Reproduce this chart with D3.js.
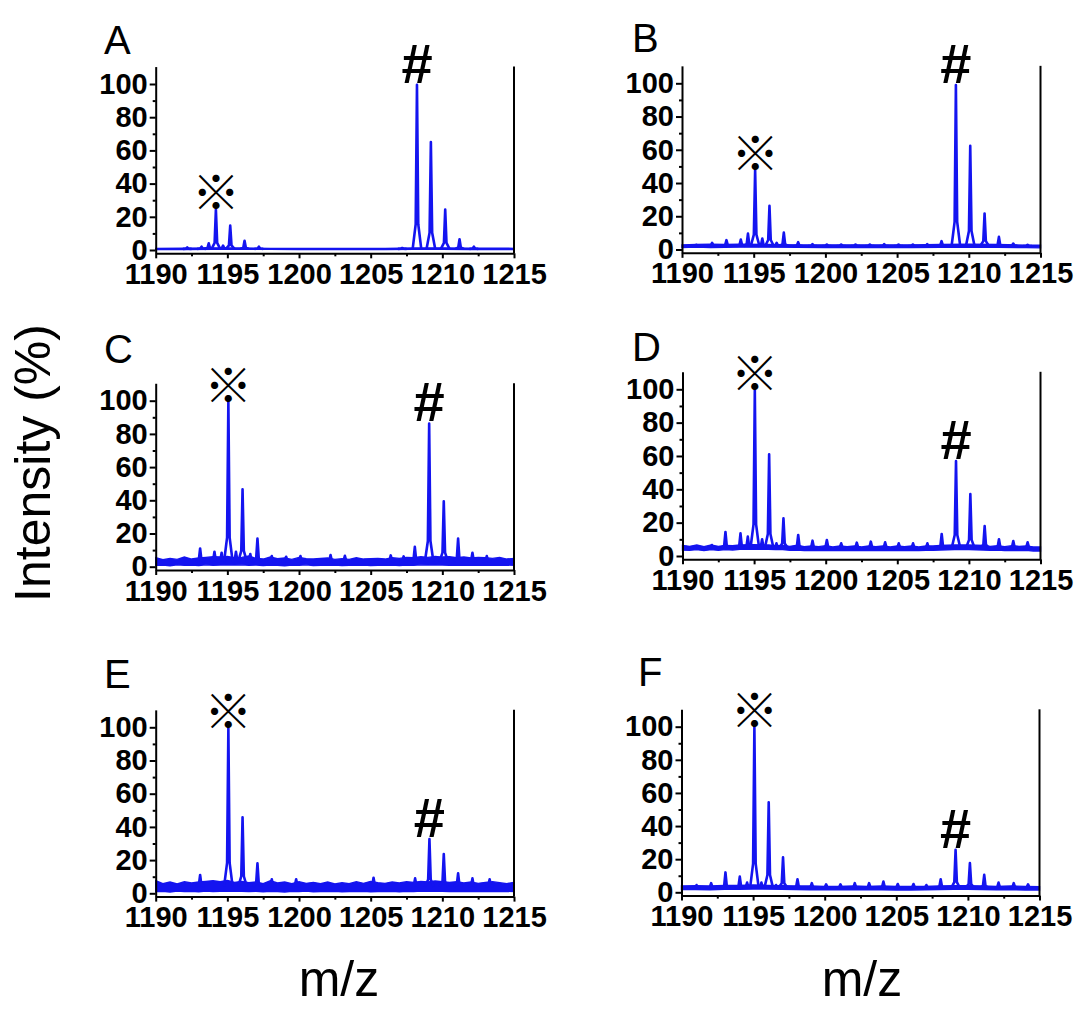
<!doctype html>
<meta charset="utf-8">

<style>
 body { margin: 0; background: #fff; }
 svg { display: block; }

 .axis path, .axis line {
     stroke: #000;
     stroke-width: 2px;
 }

 .axis .tick text {
     font-family: "Liberation Sans", Arial, sans-serif;
     font-size: 29px;
     font-weight: bold;
     fill: #000;
 }

 .letter, .title {
     font-family: "Liberation Sans", Arial, sans-serif;
 }
 .letter { font-size: 40px; }
 .title { font-size: 50px; }

 .band { fill: #1414f0; stroke: #1414f0; stroke-width: 1.4px; }
 .peak { fill: none; stroke: #1414f0; stroke-width: 2.6px; stroke-linejoin: round; }

 .star { font-family: "Noto Sans CJK JP", sans-serif; font-size: 48px; text-anchor: middle; }
 .hash { font-family: "Liberation Sans", Arial, sans-serif; font-size: 56px; font-weight: bold; text-anchor: middle; }
</style>

<svg width="1079" height="1009"></svg>

<script src="https://d3js.org/d3.v7.min.js"></script>
<script>
 // Data
 var panelNames = ['A', 'B', 'C', 'D', 'E', 'F'];
 var mzTicks = [1190, 1195, 1200, 1205, 1210, 1215];
 var mzMinor = [1192.5, 1197.5, 1202.5, 1207.5, 1212.5];
 var intTicks = [0, 20, 40, 60, 80, 100];
 var intMinor = [10, 30, 50, 70, 90];

 // peak lists [m/z, intensity %]
 var peaksA = [[1192.2, 1.6], [1193.2, 2.0], [1193.7, 4.0], [1194.2, 24.4], [1194.7, 2.6], [1195.2, 14.7],
   [1196.2, 5.6], [1197.2, 2.0], [1207.2, 1.2], [1208.23, 99.5], [1209.2, 65], [1210.2, 24.4],
   [1211.2, 6.5], [1212.2, 2.0]];
 var peaksB = [[1191.0, 2.8], [1192.1, 4.0], [1193.1, 5.6], [1194.1, 6.0], [1194.6, 9.6], [1195.1, 47.8],
   [1195.6, 6.6], [1196.1, 26.3], [1196.6, 4.0], [1197.1, 10.2], [1198.1, 4.4], [1199.1, 3.2],
   [1200.1, 3.0], [1201.1, 3.0], [1202.1, 3.0], [1203.1, 3.0], [1204.1, 3.2], [1205.1, 3.0],
   [1206.1, 3.0], [1207.1, 3.2], [1208.1, 5.0], [1209.1, 99], [1210.1, 62.4], [1211.1, 21.7],
   [1212.1, 7.6], [1213.1, 3.6], [1214.1, 2.8]];
 var peaksC = [[1193.1, 11], [1194.1, 9], [1194.6, 8.4], [1195.07, 99.5], [1195.6, 9], [1196.06, 46.6],
   [1196.6, 7.6], [1197.1, 16.9], [1198.1, 6.4], [1199.1, 6], [1200.1, 6.4], [1202.2, 7], [1203.2, 6.6],
   [1206.4, 6.8], [1207.3, 6.2], [1208.08, 12], [1209.08, 86.3], [1210.1, 39.4], [1211.1, 17],
   [1212.1, 8.4], [1213.1, 6.4]];
 var peaksD = [[1191.05, 5.6], [1192.05, 6.6], [1193.0, 14.4], [1194.05, 13.6], [1194.56, 11.6],
   [1195.05, 99.6], [1195.56, 10], [1196.05, 61], [1196.56, 7.6], [1197.05, 22.6], [1198.08, 12.6],
   [1199.08, 9.2], [1200.08, 9.6], [1201.08, 7.6], [1202.17, 8], [1203.15, 8.6], [1204.15, 8.2],
   [1205.1, 7.6], [1206.1, 7.6], [1207.1, 7.6], [1208.1, 13.2], [1209.1, 57], [1210.1, 37.2],
   [1211.1, 18], [1212.1, 10], [1213.1, 9], [1214.1, 8.2]];
 var peaksE = [[1193.1, 11], [1195.07, 99.4], [1196.06, 45.8], [1197.1, 18], [1198.1, 8.4], [1199.8, 8.4],
   [1205.2, 9.4], [1208.1, 9], [1209.1, 32.7], [1210.1, 23.7], [1211.1, 12], [1212.1, 9], [1213.3, 8.4]];
 var peaksF = [[1191.05, 4.4], [1192.07, 5.5], [1193.07, 12], [1194.07, 9.5], [1194.58, 5.9],
   [1195.09, 100], [1195.58, 5.9], [1196.09, 54.3], [1196.6, 4.4], [1197.09, 21.2], [1198.1, 7.9],
   [1199.1, 5.5], [1200.1, 4.8], [1201.1, 4.8], [1202.1, 5.5], [1203.1, 5.5], [1204.1, 6.5],
   [1205.1, 5.0], [1206.2, 5.0], [1207.1, 4.4], [1208.1, 7.9], [1209.14, 25.7], [1210.14, 17.6],
   [1211.14, 10.5], [1212.14, 5.9], [1213.2, 5.5], [1214.2, 4.8]];

 // baseline noise envelope [m/z, low, high]
 var bandA = [[1190, 0.3, 1.0], [1192, 0.3, 1.1], [1194, 0.4, 1.3], [1196, 0.4, 1.2], [1198, 0.4, 1.0],
   [1200, 0.3, 1.0], [1202, 0.3, 1.0], [1204, 0.3, 1.0], [1206, 0.3, 1.0], [1208, 0.4, 1.2],
   [1210, 0.4, 1.3], [1212, 0.3, 1.1], [1215, 0.3, 1.0]];
 var bandB = [[1190, 1.2, 2.8], [1191, 1.4, 3.0], [1192, 1.2, 3.2], [1193, 1.3, 3.0], [1194, 1.4, 3.2],
   [1196, 1.4, 3.0], [1198, 1.3, 2.8], [1200, 1.2, 2.8], [1202, 1.2, 2.8], [1204, 1.2, 2.8],
   [1206, 1.2, 2.8], [1208, 1.3, 3.0], [1210, 1.5, 3.2], [1212, 1.3, 3.0], [1214, 1.1, 2.6], [1215, 1.0, 2.6]];
 var bandC = [[1190, 0.8, 5.5], [1190.5, 1.0, 4.2], [1191, 0.6, 5.0], [1191.5, 1.2, 4.4], [1192, 0.8, 5.8],
   [1192.5, 1.0, 4.6], [1193, 0.7, 5.2], [1193.5, 1.1, 5.6], [1194, 0.9, 6.0], [1194.5, 1.0, 5.8],
   [1195, 1.2, 6.2], [1195.5, 1.0, 5.4], [1196, 1.1, 5.6], [1196.5, 0.8, 6.4], [1197, 1.0, 5.0],
   [1197.5, 0.7, 4.6], [1198, 1.0, 5.8], [1198.5, 0.8, 4.8], [1199, 0.6, 5.2], [1199.5, 1.0, 4.4],
   [1200, 0.8, 5.6], [1200.5, 1.1, 4.8], [1201, 0.7, 4.6], [1201.5, 0.9, 5.0], [1202, 0.8, 5.2],
   [1202.5, 1.0, 4.4], [1203, 0.7, 4.8], [1203.5, 0.9, 4.4], [1204, 0.8, 5.4], [1204.5, 1.0, 4.6],
   [1205, 0.7, 4.8], [1205.5, 0.9, 5.0], [1206, 0.8, 4.6], [1206.5, 1.0, 5.4], [1207, 0.7, 5.0],
   [1207.5, 1.0, 5.6], [1208, 0.9, 5.4], [1208.5, 1.1, 6.0], [1209, 1.0, 5.6], [1209.5, 1.2, 6.2],
   [1210, 1.0, 5.8], [1210.5, 0.9, 6.0], [1211, 0.8, 5.4], [1211.5, 1.0, 5.8], [1212, 0.9, 5.2],
   [1212.5, 1.0, 5.6], [1213, 0.8, 5.4], [1213.5, 1.0, 5.0], [1214, 0.8, 5.6], [1214.5, 1.0, 4.6],
   [1215, 0.8, 5.0]];
 var bandD = [[1190, 3.6, 6.4], [1190.5, 3.4, 5.8], [1191, 3.8, 6.6], [1191.5, 3.2, 5.6], [1192, 3.8, 6.6],
   [1192.5, 3.4, 5.8], [1193, 3.8, 6.4], [1193.5, 3.6, 6.2], [1194, 4.0, 6.6], [1195, 4.2, 6.8],
   [1196, 4.0, 6.6], [1196.5, 3.8, 6.2], [1197, 3.8, 6.4], [1197.5, 3.4, 5.8], [1198, 3.6, 6.4],
   [1198.5, 3.2, 5.6], [1199, 3.4, 6.0], [1199.5, 3.2, 5.6], [1200, 3.4, 6.2], [1200.5, 3.2, 5.4],
   [1201, 3.4, 6.0], [1201.5, 3.2, 5.6], [1202, 3.4, 6.0], [1202.5, 3.2, 5.4], [1203, 3.4, 6.0],
   [1203.5, 3.2, 5.6], [1204, 3.4, 6.0], [1204.5, 3.2, 5.4], [1205, 3.4, 6.0], [1205.5, 3.2, 5.6],
   [1206, 3.4, 6.0], [1206.5, 3.2, 5.4], [1207, 3.4, 6.0], [1207.5, 3.4, 6.0], [1208, 3.6, 6.4],
   [1209, 3.8, 6.6], [1210, 3.8, 6.6], [1211, 3.6, 6.4], [1211.5, 3.4, 5.8], [1212, 3.6, 6.2],
   [1212.5, 3.2, 5.6], [1213, 3.4, 6.2], [1213.5, 3.2, 5.8], [1214, 3.4, 6.0], [1214.5, 3.0, 5.4],
   [1215, 3.0, 5.4]];
 var bandE = [[1190, 1.0, 7.6], [1190.5, 1.2, 5.8], [1191, 0.8, 6.8], [1191.5, 1.4, 5.6], [1192, 1.0, 7.0],
   [1192.5, 1.2, 6.2], [1193, 0.9, 6.8], [1193.5, 1.3, 7.2], [1194, 1.0, 7.6], [1194.5, 1.2, 7.0],
   [1195, 1.4, 7.8], [1195.5, 1.2, 6.6], [1196, 1.2, 7.2], [1196.5, 1.0, 6.4], [1197, 1.2, 6.8],
   [1197.5, 0.9, 5.8], [1198, 1.2, 7.6], [1198.5, 1.0, 6.2], [1199, 0.8, 6.8], [1199.5, 1.2, 5.8],
   [1200, 1.0, 7.0], [1200.5, 1.3, 6.0], [1201, 0.9, 6.6], [1201.5, 1.1, 5.8], [1202, 1.0, 6.8],
   [1202.5, 1.2, 5.6], [1203, 0.9, 6.4], [1203.5, 1.1, 5.8], [1204, 1.0, 7.0], [1204.5, 1.2, 6.0],
   [1205, 0.9, 7.2], [1205.5, 1.1, 6.4], [1206, 1.0, 6.0], [1206.5, 1.2, 6.8], [1207, 0.9, 6.2],
   [1207.5, 1.2, 7.0], [1208, 1.1, 6.6], [1208.5, 1.3, 7.2], [1209, 1.2, 6.8], [1209.5, 1.4, 7.4],
   [1210, 1.2, 7.0], [1210.5, 1.1, 6.6], [1211, 1.0, 7.0], [1211.5, 1.2, 6.2], [1212, 1.1, 6.8],
   [1212.5, 1.2, 6.0], [1213, 1.0, 6.6], [1213.5, 1.2, 7.0], [1214, 1.0, 6.4], [1214.5, 1.2, 5.8],
   [1215, 1.0, 6.6]];
 var bandF = [[1190, 1.6, 3.8], [1191, 1.6, 4.0], [1192, 1.5, 3.8], [1193, 1.8, 4.2], [1194, 1.8, 4.2],
   [1195, 2.0, 4.4], [1196, 1.9, 4.2], [1197, 1.8, 4.0], [1198, 1.6, 3.8], [1199, 1.5, 3.8],
   [1200, 1.5, 3.6], [1201, 1.5, 3.6], [1202, 1.5, 3.8], [1203, 1.5, 3.6], [1204, 1.5, 3.8],
   [1205, 1.4, 3.6], [1206, 1.4, 3.6], [1207, 1.5, 3.6], [1208, 1.6, 3.8], [1209, 1.8, 4.0],
   [1210, 1.8, 4.0], [1211, 1.6, 3.8], [1212, 1.5, 3.6], [1213, 1.5, 3.8], [1214, 1.4, 3.6], [1215, 1.4, 3.4]];

 var baseLevels = [0.7, 2.1, 3.0, 4.8, 4.0, 2.7];
 var starMz = [1194.2, 1195.1, 1195.07, 1195.05, 1195.07, 1195.09];
 var hashMz = [1208.23, 1209.1, 1209.08, 1209.1, 1209.1, 1209.14];

 var peakSets = [peaksA, peaksB, peaksC, peaksD, peaksE, peaksF];
 var bandSets = [bandA, bandB, bandC, bandD, bandE, bandF];

 // Layout (pixel frame of each panel)
 var frames = [
   {x0: 155.7, x1: 514, y0: 250, y100: 84, lx: 104, ly: 54},
   {x0: 682, x1: 1040.5, y0: 249.5, y100: 83.3, lx: 632, ly: 52},
   {x0: 155.7, x1: 514, y0: 566.7, y100: 400.7, lx: 104, ly: 363},
   {x0: 682.5, x1: 1040.5, y0: 556, y100: 389.3, lx: 632, ly: 361},
   {x0: 155.7, x1: 514, y0: 893.3, y100: 727.3, lx: 104, ly: 688},
   {x0: 681.5, x1: 1039.5, y0: 892.3, y100: 726.7, lx: 638, ly: 686}
 ];

 var svg = d3.select('svg');

 frames.forEach(function(f, i) {
   var k = (f.y0 - f.y100) / 100;
   var x = d3.scaleLinear().domain([1190, 1215]).range([f.x0, f.x1]);
   var y = d3.scaleLinear().domain([-2, 110.5]).range([f.y0 + 2 * k, f.y100 - 10.5 * k]);
   var g = svg.append('g');

   // spectrum: noise envelope
   var area = d3.area()
     .x(function(d) { return x(d[0]); })
     .y0(function(d) { return y(d[1]); })
     .y1(function(d) { return y(d[2]); });
   g.append('path').attr('class', 'band').attr('d', area(bandSets[i]));

   // spectrum: peaks
   var b = baseLevels[i];
   var line = d3.line()
     .x(function(d) { return x(d[0]); })
     .y(function(d) { return y(d[1]); });
   g.selectAll('path.peak')
     .data(peakSets[i])
     .join('path')
     .attr('class', 'peak')
     .attr('d', function(p) {
       var s = b + 0.15 * (p[1] - b);
       return line([[p[0] - 0.3, b], [p[0] - 0.09, s], [p[0], p[1]], [p[0] + 0.09, s], [p[0] + 0.3, b]]);
     });

   // axes
   g.append('g').attr('class', 'axis')
     .attr('transform', 'translate(' + f.x0 + ',0)')
     .call(d3.axisLeft(y).tickValues(intTicks).tickSize(6).tickSizeOuter(0).tickPadding(2));
   g.append('g').attr('class', 'axis')
     .attr('transform', 'translate(' + f.x0 + ',0)')
     .call(d3.axisLeft(y).tickValues(intMinor).tickSize(3).tickSizeOuter(0).tickFormat(''))
     .select('.domain').remove();
   var yb = y(-2);
   g.append('g').attr('class', 'axis')
     .attr('transform', 'translate(0,' + yb + ')')
     .call(d3.axisBottom(x).tickValues(mzTicks).tickSize(5).tickSizeOuter(0).tickPadding(5)
       .tickFormat(d3.format('d')));
   g.append('g').attr('class', 'axis')
     .attr('transform', 'translate(0,' + yb + ')')
     .call(d3.axisBottom(x).tickValues(mzMinor).tickSize(3).tickSizeOuter(0).tickFormat(''))
     .select('.domain').remove();
   g.append('line')
     .attr('x1', f.x1).attr('x2', f.x1)
     .attr('y1', y(-2)).attr('y2', y(110.5))
     .attr('stroke', '#000').attr('stroke-width', 2);

   // annotations
   var star = peakSets[i].find(function(p) { return p[0] === starMz[i]; });
   var hash = peakSets[i].find(function(p) { return p[0] === hashMz[i]; });
   g.append('text').attr('class', 'star')
     .attr('x', x(star[0])).attr('y', y(star[1]) + 1)
     .text('※');
   g.append('text').attr('class', 'hash')
     .attr('x', x(hash[0])).attr('y', y(hash[1]) - 2)
     .text('#');

   // panel letter
   svg.append('text').attr('class', 'letter')
     .attr('x', f.lx).attr('y', f.ly)
     .text(panelNames[i]);
 });

 // shared axis titles
 svg.append('text').attr('class', 'title')
   .attr('transform', 'translate(50,463) rotate(-90)')
   .attr('text-anchor', 'middle')
   .text('Intensity (%)');
 svg.selectAll('text.mz')
   .data([339, 862])
   .join('text')
   .attr('class', 'title mz')
   .attr('x', function(d) { return d; })
   .attr('y', 996)
   .attr('text-anchor', 'middle')
   .attr('font-size', 46)
   .text('m/z');
</script>
